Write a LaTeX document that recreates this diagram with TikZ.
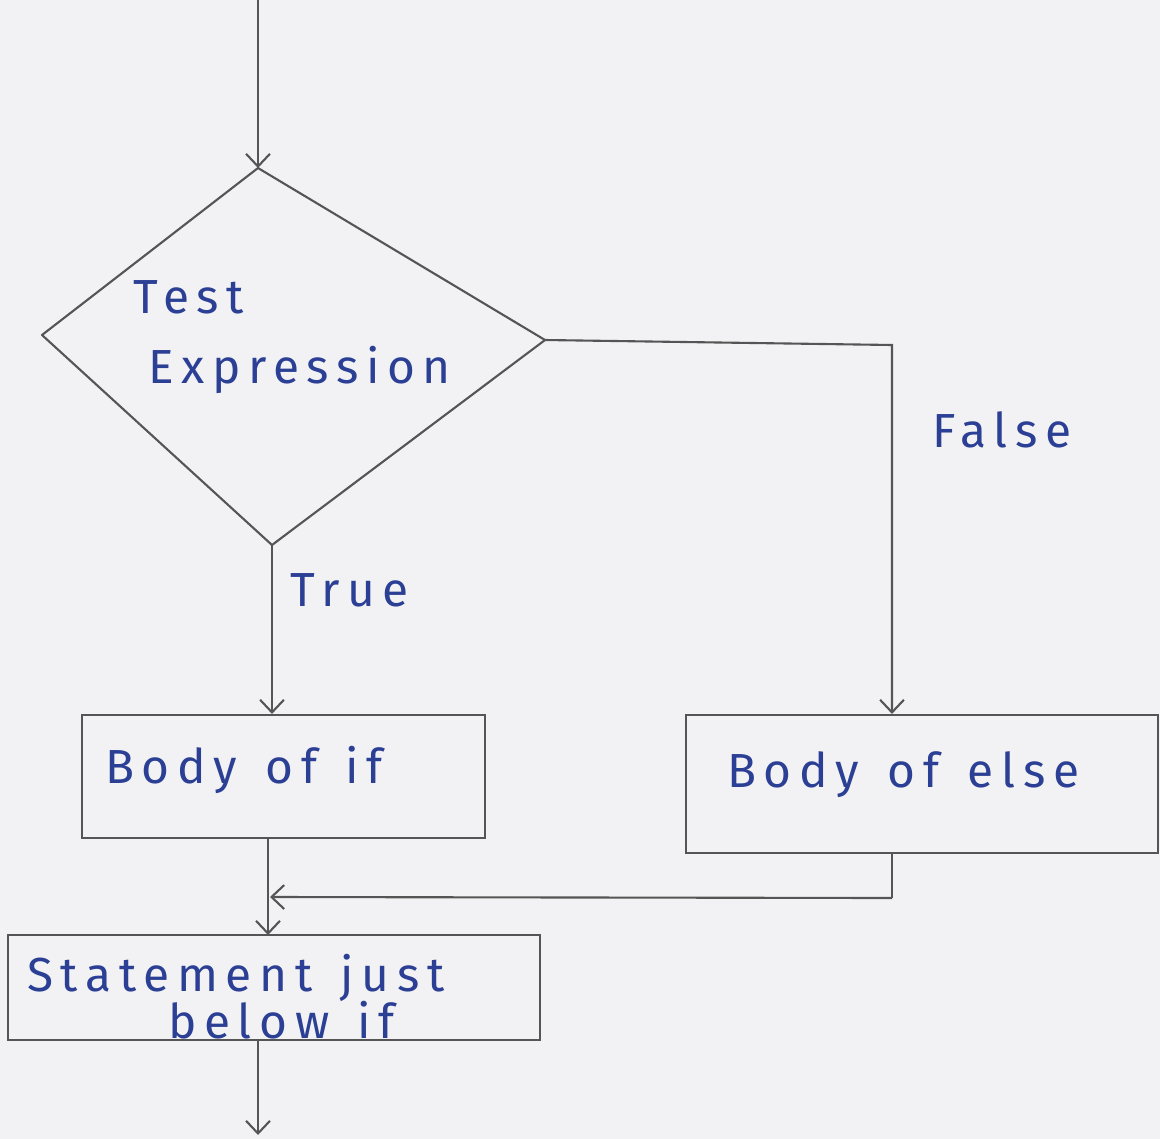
\documentclass[tikz,border=0pt]{standalone}
\usepackage{fontspec}
\setmainfont{Fira Sans}[LetterSpace=16,WordSpace=1.4]
\usetikzlibrary{arrows.meta}
\definecolor{ink}{HTML}{2B3F95}
\definecolor{pencil}{HTML}{555555}
\definecolor{paper}{HTML}{F2F2F4}
\tikzset{
  line/.style={draw=pencil, line width=1.5pt},
  arr/.style={line, -{Straight Barb[length=9pt,width=17pt,line width=1.5pt]}},
  box/.style={line, rectangle, inner sep=0pt},
  lbl/.style={text=ink, inner sep=0pt, font=\fontsize{34}{40}\selectfont}
}
\begin{document}
\begin{tikzpicture}[x=0.025cm,y=-0.025cm]
  \fill[paper] (0,0) rectangle (1160,1139);
  \useasboundingbox (0,0) rectangle (1160,1139);
  % diamond
  \coordinate (start) at (258,0);
  \coordinate (dt) at (258,168);
  \coordinate (dl) at (42,335);
  \coordinate (dr) at (545,340);
  \coordinate (db) at (272,545);
  \draw[line, line join=round] (dt) -- (dr) -- (db) -- (dl) -- cycle;
  \node[lbl, anchor=west] (t1) at (133,297) {Test};
  \node[lbl, anchor=west] (t2) at (148,370) {Expression};
  % boxes
  \node[box, minimum width=10.075cm, minimum height=3.075cm] (ifb) at (283.5,776.5) {};
  \node[lbl, anchor=west] (ift) at (105,770) {Body of if};
  \node[box, minimum width=11.8cm, minimum height=3.45cm] (elseb) at (922,784) {};
  \node[lbl, anchor=west] (elset) at (727,775) {Body of else};
  \node[box, minimum width=13.3cm, minimum height=2.625cm] (stb) at (274,987.5) {};
  \node[lbl, anchor=west] (st1) at (27,978) {Statement just};
  \node[lbl, anchor=west] (st2) at (168,1020) {below if};
  % labels
  \node[lbl, anchor=west] (tr) at (290,590) {True};
  \node[lbl, anchor=west] (fa) at (932,430) {False};
  % connectors
  \coordinate (end) at (258,1135);
  \coordinate (rc) at (892,345);
  \coordinate (jr) at (892,898);
  \coordinate (jl) at (270,897);
  \draw[arr] (start) -- (dt);
  \draw[arr] (db) -- (db |- ifb.north);
  \draw[arr] (dr) -- (rc) -- (rc |- elseb.north);
  \draw[arr] (268,838) -- (268,935);
  \draw[line] (892,853) -- (jr);
  \draw[arr] (jr) -- (jl);
  \draw[arr] (258,1040) -- (end);
\end{tikzpicture}
\end{document}
